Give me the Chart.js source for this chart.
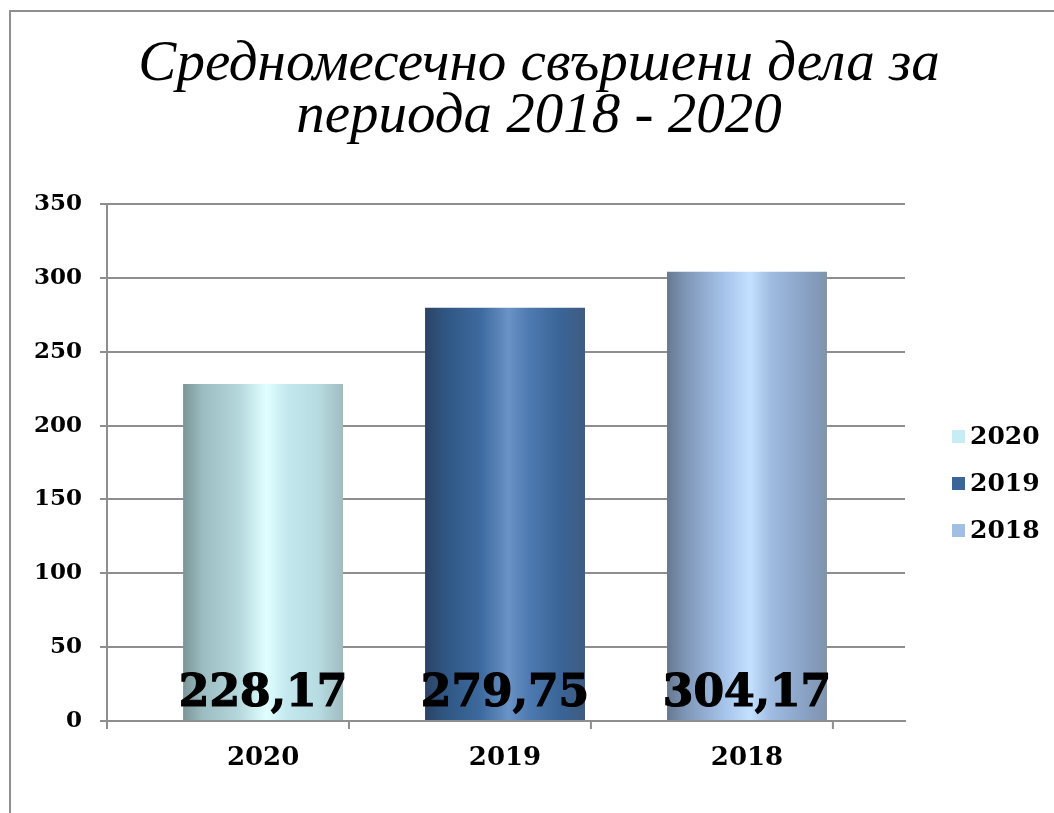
<!DOCTYPE html>
<html lang="bg">
<head>
    <meta charset="UTF-8">
    <title>Средномесечно свършени дела</title>
    <style>
        body {
            margin: 0;
            padding: 0;
            background: #fff;
            overflow: hidden;
        }

        /* рамка на диаграмата */
        .frame {
            position: absolute;
            left: 9px;
            top: 10px;
            width: 1200px;
            height: 900px;
            border-left: 2px solid #8f8f8f;
            border-top: 2px solid #8f8f8f;
            pointer-events: none;
        }

        .chart-container {
            position: absolute;
            left: 0;
            top: 0;
            width: 1054px;
            height: 813px;
        }
    </style>
    <script src="https://cdn.jsdelivr.net/npm/chart.js"></script>
</head>
<body>
    <div class="chart-container">
        <canvas id="myChart"></canvas>
    </div>
    <div class="frame"></div>
    <script>
        // Данни
        const years = ['2020', '2019', '2018'];
        const values = [228.17, 279.75, 304.17];
        const yTickValues = [0, 50, 100, 150, 200, 250, 300, 350];
        const titleLines = ['Средномесечно свършени дела за', 'периода 2018 - 2020'];

        // Цветове
        const legendColors = ['#c6ecf4', '#3b6499', '#a1bfe2'];
        const barShades = [
            ['#7b9598', '#9bbcc0', '#b5d8dc', '#e0ffff', '#c3e8ee', '#b6dbe0', '#a0bcc0'],
            ['#2c4263', '#2f5683', '#3d6a9f', '#6a93c6', '#4d7ab0', '#3a6497', '#3f5c80'],
            ['#66788f', '#7f97b8', '#a4c2e8', '#c3e0ff', '#9fbce0', '#8aa3c6', '#7f93ad']
        ];
        const shadeStops = [0, 0.12, 0.35, 0.52, 0.65, 0.85, 1];

        const barPct = 0.661;
        const gridColor = '#8e8e8e';
        const serifBold = { family: '"DejaVu Serif", serif', weight: 'bold' };

        // цилиндричен градиент за всеки стълб
        function cylinder(context) {
            const chart = context.chart;
            const i = context.dataIndex;
            if (!chart.chartArea || i === undefined) return legendColors[i] || '#999';
            const xs = chart.scales.x;
            const l = xs.getPixelForValue(i - barPct / 2);
            const r = xs.getPixelForValue(i + barPct / 2);
            const g = chart.ctx.createLinearGradient(l, 0, r, 0);
            barShades[i].forEach((c, k) => g.addColorStop(shadeStops[k], c));
            return g;
        }

        // заглавие, центрирано по цялата рамка
        const bigTitle = {
            id: 'bigTitle',
            afterDraw(chart) {
                const ctx = chart.ctx;
                ctx.save();
                ctx.font = 'italic 57px "Liberation Serif"';
                ctx.fillStyle = '#000';
                ctx.textAlign = 'center';
                ctx.textBaseline = 'alphabetic';
                titleLines.forEach((t, i) => ctx.fillText(t, 539, 80 + i * 52));
                ctx.restore();
            }
        };

        // стойности върху стълбовете
        const valueLabels = {
            id: 'valueLabels',
            afterDatasetsDraw(chart) {
                const ctx = chart.ctx;
                const y0 = chart.scales.y.getPixelForValue(0);
                ctx.save();
                ctx.font = 'bold 44px "DejaVu Serif"';
                ctx.fillStyle = '#000';
                ctx.strokeStyle = '#000';
                ctx.lineWidth = 1.2;
                ctx.textAlign = 'center';
                ctx.textBaseline = 'alphabetic';
                chart.getDatasetMeta(0).data.forEach((bar, i) => {
                    const txt = values[i].toFixed(2).replace('.', ',');
                    ctx.fillText(txt, bar.x, y0 - 15);
                    ctx.strokeText(txt, bar.x, y0 - 15);
                });
                ctx.restore();
            }
        };

        // малки чертички под оста X
        const floorTicks = {
            id: 'floorTicks',
            afterDraw(chart) {
                const ctx = chart.ctx;
                const xs = chart.scales.x;
                const y0 = chart.scales.y.getPixelForValue(0);
                const marks = [xs.left];
                years.forEach((_, i) => marks.push(xs.getPixelForValue(i + 0.355)));
                ctx.save();
                ctx.strokeStyle = gridColor;
                ctx.lineWidth = 2;
                marks.forEach(x => {
                    ctx.beginPath();
                    ctx.moveTo(x, y0);
                    ctx.lineTo(x, y0 + 8);
                    ctx.stroke();
                });
                ctx.restore();
            }
        };

        // легенда вдясно
        const sideLegend = {
            id: 'sideLegend',
            afterDraw(chart) {
                const ctx = chart.ctx;
                const area = chart.chartArea;
                const mid = (area.top + area.bottom) / 2 + 20.5;
                const x = area.right + 47;
                ctx.save();
                ctx.font = 'bold 25px "DejaVu Serif"';
                ctx.textBaseline = 'middle';
                ctx.textAlign = 'left';
                years.forEach((y, i) => {
                    const cy = mid + (i - 1) * 47;
                    ctx.fillStyle = legendColors[i];
                    ctx.fillRect(x, cy - 6, 13, 13);
                    ctx.fillStyle = '#000';
                    ctx.fillText(y, x + 18, cy + 1);
                });
                ctx.restore();
            }
        };

        const ctx = document.getElementById('myChart').getContext('2d');
        const myChart = new Chart(ctx, {
            type: 'bar',
            data: {
                datasets: [{
                    label: 'Средномесечно свършени дела',
                    data: values.map((v, i) => ({ x: i, y: v })),
                    backgroundColor: cylinder,
                    borderWidth: 0,
                    categoryPercentage: 1,
                    barPercentage: barPct
                }]
            },
            options: {
                responsive: true,
                maintainAspectRatio: false,
                animation: false,
                layout: { padding: { left: 0, right: 149, top: 204, bottom: 0 } },
                plugins: {
                    legend: { display: false },
                    tooltip: { enabled: false },
                    title: { display: false }
                },
                scales: {
                    x: {
                        type: 'linear',
                        offset: false,
                        min: -0.645,
                        max: 2.653,
                        grid: { display: false, drawTicks: false, offset: false },
                        border: { display: true, color: gridColor, width: 2 },
                        ticks: {
                            stepSize: 1,
                            includeBounds: false,
                            autoSkip: false,
                            maxRotation: 0,
                            padding: 22,
                            color: '#000',
                            font: { ...serifBold, size: 26 },
                            callback: v => years[v] ?? ''
                        },
                        afterFit(scale) { scale.height = 92; }
                    },
                    y: {
                        min: 0,
                        max: 350,
                        afterBuildTicks(scale) { scale.ticks = yTickValues.map(v => ({ value: v })); },
                        ticks: {
                            padding: 18,
                            color: '#000',
                            font: { ...serifBold, size: 23 }
                        },
                        grid: { color: gridColor, lineWidth: 2, tickLength: 7 },
                        border: { color: gridColor, width: 2 },
                        afterFit(scale) { scale.width = 107; }
                    }
                }
            },
            plugins: [valueLabels, floorTicks, sideLegend, bigTitle]
        });
    </script>
</body>
</html>
